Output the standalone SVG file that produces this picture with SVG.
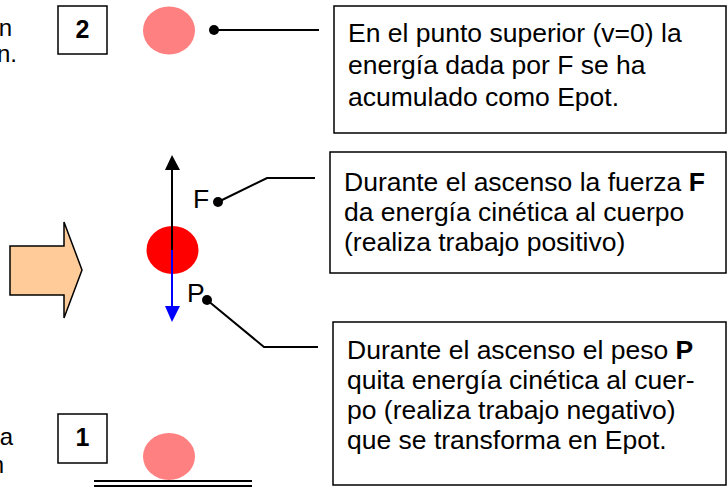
<svg xmlns="http://www.w3.org/2000/svg" width="728" height="488" viewBox="0 0 728 488">
<style>
text{font-family:"Liberation Sans",Arial,sans-serif;fill:#000}
.t{font-size:26.5px}
.s{font-size:24px}
.num{font-size:25px;font-weight:bold;text-anchor:middle}
.box{fill:#fff;stroke:#000;stroke-width:1.5}
.ln{fill:none;stroke:#000;stroke-width:2}
.pink{fill:#ff8080}
</style>
<defs>
<marker id="dot" viewBox="0 0 10 10" refX="5" refY="5" markerWidth="10" markerHeight="10" markerUnits="userSpaceOnUse"><circle cx="5" cy="5" r="5" fill="#000"/></marker>
</defs>
<rect width="728" height="488" fill="#fff"/>
<g id="left-texts">
<text class="s" x="12" y="36" text-anchor="end">n</text>
<text class="s" x="17" y="62" text-anchor="end">n.</text>
<text class="s" x="13" y="445" text-anchor="end">a</text>
<text class="s" x="4" y="473" text-anchor="end">n</text>
</g>
<g id="label-2"><rect class="box" x="58" y="6" width="49" height="48"/><text class="num" x="82.5" y="38">2</text></g>
<g id="label-1"><rect class="box" x="58" y="414" width="49" height="49"/><text class="num" x="82.5" y="446">1</text></g>
<g id="ball-top"><ellipse class="pink" cx="169" cy="30.5" rx="26" ry="24"/></g>
<g id="ball-bottom"><ellipse class="pink" cx="169" cy="456.5" rx="26" ry="23.5"/></g>
<g id="ground"><line x1="94" y1="481" x2="252" y2="481" stroke="#000" stroke-width="2"/><line x1="94" y1="486" x2="252" y2="486" stroke="#000" stroke-width="2"/></g>
<g id="big-arrow"><polygon points="10,246 64,246 64,222 82,270 64,318 64,295 10,295" fill="#ffcc99" stroke="#000" stroke-width="1.5" stroke-linejoin="miter"/></g>
<g id="ball-mid">
<ellipse cx="172.5" cy="250" rx="26" ry="24" fill="#ff0000"/>
<line x1="172" y1="250" x2="172" y2="168" stroke="#000" stroke-width="2"/>
<polygon points="172,155 165,170 180,170" fill="#000"/>
<line x1="172" y1="250" x2="172" y2="308" stroke="#0000ff" stroke-width="2"/>
<polygon points="165,306 180,306 172,322" fill="#0000ff"/>
<text class="t" x="193" y="208">F</text>
<text class="t" x="187" y="302">P</text>
</g>
<g id="box-top"><rect class="box" x="334" y="6" width="392" height="127"/>
<text class="t" x="348" y="42">En el punto superior (v=0) la</text>
<text class="t" x="348" y="74">energía dada por F se ha</text>
<text class="t" x="348" y="106">acumulado como Epot.</text></g>
<g id="box-f"><rect class="box" x="330" y="152" width="396" height="121"/>
<text class="t" x="344" y="191">Durante el ascenso la fuerza <tspan font-weight="bold">F</tspan></text>
<text class="t" x="344" y="221">da energía cinética al cuerpo</text>
<text class="t" x="344" y="251">(realiza trabajo positivo)</text></g>
<g id="box-p"><rect class="box" x="333" y="322" width="393" height="163"/>
<text class="t" x="347" y="359">Durante el ascenso el peso <tspan font-weight="bold">P</tspan></text>
<text class="t" x="347" y="389">quita energía cinética al cuer-</text>
<text class="t" x="347" y="419">po (realiza trabajo negativo)</text>
<text class="t" x="347" y="449">que se transforma en Epot.</text></g>
<g id="connectors">
<polyline class="ln" points="214,30 319,30" marker-start="url(#dot)"/>
<polyline class="ln" points="218,202 267,178 315,178" marker-start="url(#dot)"/>
<polyline class="ln" points="207,300 264,347 318,347" marker-start="url(#dot)"/>
</g>
</svg>
